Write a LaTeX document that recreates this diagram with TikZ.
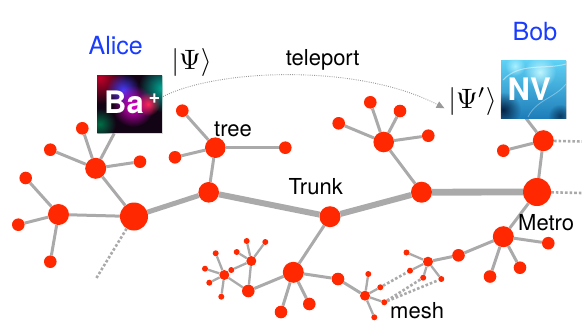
\documentclass[tikz,border=0pt]{standalone}
\usepackage{fontspec}
\setmainfont{TeX Gyre Heros}
\usetikzlibrary{arrows.meta,fadings,shadows}

\definecolor{nodered}{RGB}{255,40,0}
\definecolor{edgegray}{RGB}{170,170,170}
\definecolor{namecolor}{RGB}{25,60,255}
\definecolor{bagnd}{RGB}{18,4,20}
\definecolor{baCrimson}{RGB}{190,0,40}
\definecolor{baTeal}{RGB}{0,170,150}
\definecolor{baGreen}{RGB}{0,110,70}
\definecolor{baBlue}{RGB}{70,60,255}
\definecolor{baMagenta}{RGB}{230,0,210}
\definecolor{baPink}{RGB}{255,40,90}
\definecolor{nvTop}{RGB}{95,210,245}
\definecolor{nvBottom}{RGB}{30,125,185}
\definecolor{nvDeep}{RGB}{5,35,70}
\definecolor{nvDark}{RGB}{10,60,100}
\definecolor{nvLight}{RGB}{190,245,255}
\definecolor{nvPale}{RGB}{170,240,255}
\tikzfading[name=glowfade, inner color=transparent!0, outer color=transparent!100]

\pgfdeclarelayer{edges}
\pgfsetlayers{edges,main}

\tikzset{
  rednode/.style={circle, fill=nodered, inner sep=0pt},
  bigdot/.style={rednode, minimum size=28pt},
  hubdot/.style={rednode, minimum size=21pt},
  leafdot/.style={rednode, minimum size=12.6pt},
  minidot/.style={rednode, minimum size=10pt},
  twigdot/.style={rednode, minimum size=6pt},
  branch/.style={draw=edgegray, line width=3pt},
  twigline/.style={draw=edgegray, line width=2.3pt},
  trunkline/.style={draw=edgegray, line width=#1},
  dotline/.style={draw=edgegray, line width=2.6pt, dash pattern=on 2.6pt off 2pt},
  word/.style={anchor=base west, inner sep=0pt, font=\fontsize{22}{26}\selectfont},
  nameword/.style={anchor=base west, inner sep=0pt, text=namecolor, font=\fontsize{25}{30}\selectfont},
  ket/.style={inner sep=0pt, font=\fontsize{10}{12}\selectfont, scale=2.8},
  picbox/.style={inner sep=0pt, minimum width=65pt, minimum height=58pt,
    drop shadow={opacity=0.3, shadow xshift=1pt, shadow yshift=-1pt}},
  boxtext/.style={anchor=base west, inner sep=0pt, text=white, font=\bfseries\fontsize{31}{31}\selectfont},
  glow/.style={fill=#1, path fading=glowfade},
}

\begin{document}
\begin{tikzpicture}[x=1pt, y=-1pt]
\useasboundingbox (0,0) rectangle (582,322);

% ---------- left tree ----------
\node[bigdot] (L1) at (134,216.5) {};
\node[hubdot] (L2) at (58.5,214.5) {};
\node[hubdot] (L3) at (95.7,168.3) {};
\node[leafdot] (L3a) at (82.3,128.3) {};
\node[leafdot] (L3b) at (50.3,149.7) {};
\node[leafdot] (L3c) at (140,161.7) {};
\node[leafdot] (L2a) at (25.7,178) {};
\node[leafdot] (L2b) at (18.3,224.7) {};
\node[leafdot] (L2c) at (50.3,261.7) {};
\coordinate (Lfree) at (96,278.7);

% ---------- tree ----------
\node[hubdot, minimum size=20.6pt] (T1) at (215.3,147.7) {};
\node[leafdot] (T1a) at (182.3,110.7) {};
\node[leafdot] (T1b) at (175,157.3) {};
\node[leafdot] (T1c) at (285.3,147.7) {};
\node[hubdot, minimum size=20.6pt] (T2) at (208.7,192.3) {};

% ---------- trunk ----------
\node[hubdot] (C) at (330,216.7) {};
\node[hubdot] (R1) at (421.5,192.2) {};
\node[bigdot] (R2) at (537,192) {};
\coordinate (R2free) at (582,193);

% ---------- upper right tree ----------
\node[hubdot, minimum size=20.6pt] (Q) at (383.7,142) {};
\node[leafdot] (Qa) at (370.3,102.3) {};
\node[leafdot] (Qb) at (400,111) {};
\node[leafdot] (Qc) at (338.7,123.3) {};
\node[leafdot] (Qd) at (428.3,135.7) {};

\node[hubdot] (P) at (543.3,140.7) {};
\node[leafdot] (Pa) at (503.3,150.7) {};
\coordinate (Pfree) at (582,141.5);
\coordinate (NVfoot) at (518,108);

% ---------- lower network ----------
\node[hubdot] (D) at (293.3,272.3) {};
\node[leafdot] (Da) at (309.3,304) {};
\node[leafdot] (Db) at (281,312) {};
\node[leafdot] (N) at (338,279) {};

\node[minidot] (E) at (365,295.7) {};
\node[twigdot] (Ea) at (368.3,274) {};
\node[twigdot] (Eb) at (374.3,317.3) {};
\node[twigdot] (Ec) at (380.3,287.3) {};
\node[twigdot] (Ed) at (384.3,302.3) {};

\node[minidot] (F) at (428,261.7) {};
\node[twigdot] (Fa) at (406.5,252.5) {};
\node[twigdot] (Fb) at (410,270.7) {};
\node[twigdot] (Fc) at (423.2,277.7) {};
\node[twigdot] (Fd) at (441.3,279) {};

\node[leafdot] (G) at (458.5,255.3) {};
\node[hubdot] (H) at (503.3,236.7) {};
\node[leafdot] (Ha) at (548.3,243.2) {};
\node[leafdot] (Hb) at (520,267.7) {};
\node[leafdot] (Hc) at (490,276.5) {};

\node[leafdot] (K) at (248.3,291) {};
\node[minidot] (J) at (251.3,261) {};
\node[twigdot] (Ja) at (246.7,241) {};
\node[twigdot] (Jb) at (265.3,242) {};
\node[twigdot] (Jc) at (236.7,252) {};
\node[twigdot] (Jd) at (231.3,270) {};
\node[minidot] (I) at (224.3,275) {};
\node[twigdot] (Ia) at (215.7,253.3) {};
\node[twigdot] (Ib) at (205,268.7) {};
\node[twigdot] (Ic) at (209.3,282.7) {};
\node[twigdot] (Id) at (221.3,296.7) {};

% ---------- Ba+ ion picture ----------
\node[picbox, fill=bagnd] (ba) at (129.7,104.2) {};
\begin{scope}
  \clip (ba.south west) rectangle (ba.north east);
  \fill[glow=baCrimson] (100,78) circle (26pt);
  \fill[glow=baTeal] (162,88) circle (24pt);
  \fill[glow=baGreen] (100,124) circle (16pt);
  \fill[glow=baBlue] (123,90) circle (17pt);
  \fill[glow=baMagenta] (133,106) circle (21pt);
  \fill[glow=baPink] (148,104) circle (12pt);
\end{scope}
\node[boxtext] (batext) at (104,113.3) {Ba};
\node[inner sep=0pt, text=white, font=\bfseries\fontsize{20}{20}\selectfont] (baplus) at (154.4,98.6) {+};

% ---------- NV centre picture ----------
\node[picbox, top color=nvTop, bottom color=nvBottom] (nv) at (533.5,89) {};
\begin{scope}
  \clip (nv.south west) rectangle (nv.north east);
  \fill[glow=nvDeep] (503,110) circle (18pt);
  \fill[glow=nvDark] (560,116) circle (12pt);
  \fill[glow=nvLight] (540,72) circle (16pt);
  \fill[glow=nvPale] (515,66) circle (10pt);
  \draw[white, opacity=0.45, line width=1pt] (503,80) .. controls (520,62) and (545,70) .. (566,64);
  \draw[white, opacity=0.35, line width=0.8pt] (528,117) .. controls (536,100) and (555,98) .. (566,84);
\end{scope}
\node[boxtext] (nvtext) at (507.5,100) {NV};

% ---------- texts ----------
\node[nameword] (alice) at (88.5,54.3) {Alice};
\node[nameword] (bob) at (512.5,40) {Bob};
\node[ket] (psia) at (191.5,62.5) {$|\Psi\rangle$};
\node[ket] (psib) at (472.5,101.3) {$|\Psi'\rangle$};
\node[word] (teleport) at (285.7,65) {teleport};
\node[word] (treelbl) at (214,136) {tree};
\node[word] (trunklbl) at (288.3,194.3) {Trunk};
\node[word] (metrolbl) at (518,230.7) {Metro};
\node[word] (meshlbl) at (390,318.5) {mesh};

% ---------- teleportation ----------
\coordinate (tpstart) at (163,96.5);
\coordinate (tpend) at (444.5,108.3);
\draw[edgegray!90!black, line width=0.9pt, dash pattern=on 0.9pt off 1.3pt,
      -{Triangle[length=8pt, width=7pt, sep=0pt]}]
  (tpstart) .. controls (220,68) and (360,64) .. (tpend);

% ---------- connectors ----------
\begin{pgfonlayer}{edges}
  \draw[trunkline=5pt] (L1) -- (T2);
  \draw[trunkline=6pt] (T2) -- (C);
  \draw[trunkline=6pt] (C) -- (R1);
  \draw[trunkline=6.8pt] (R1) -- (R2);

  \draw[branch] (L1) -- (L2);
  \draw[branch] (L1) -- (L3);
  \draw[branch] (L3) -- (ba);
  \draw[branch] (L3) -- (L3a);
  \draw[branch] (L3) -- (L3b);
  \draw[branch] (L3) -- (L3c);
  \draw[branch] (L2) -- (L2a);
  \draw[branch] (L2) -- (L2b);
  \draw[branch] (L2) -- (L2c);
  \draw[dotline] (L1) -- (Lfree);

  \draw[branch] (T2) -- (T1);
  \draw[branch] (T1) -- (T1a);
  \draw[branch] (T1) -- (T1b);
  \draw[branch] (T1) -- (T1c);

  \draw[branch] (R1) -- (Q);
  \draw[branch] (Q) -- (Qa);
  \draw[branch] (Q) -- (Qb);
  \draw[branch] (Q) -- (Qc);
  \draw[branch] (Q) -- (Qd);

  \draw[branch] (R2) -- (P);
  \draw[branch] (P) -- (Pa);
  \draw[branch] (P) -- (NVfoot);
  \draw[dotline] (P) -- (Pfree);
  \draw[dotline] (R2) -- (R2free);

  \draw[branch] (R2) -- (H);
  \draw[branch] (H) -- (Ha);
  \draw[branch] (H) -- (Hb);
  \draw[branch] (H) -- (Hc);
  \draw[branch] (H) -- (G);
  \draw[branch] (G) -- (F);
  \draw[twigline] (F) -- (Fa);
  \draw[twigline] (F) -- (Fb);
  \draw[twigline] (F) -- (Fc);
  \draw[twigline] (F) -- (Fd);

  \draw[branch] (C) -- (D);
  \draw[branch] (D) -- (Da);
  \draw[branch] (D) -- (Db);
  \draw[branch] (D) -- (N);
  \draw[branch] (N) -- (E);
  \draw[twigline] (E) -- (Ea);
  \draw[twigline] (E) -- (Eb);
  \draw[twigline] (E) -- (Ec);
  \draw[twigline] (E) -- (Ed);

  \draw[dotline] (Ec) -- (Fb);
  \draw[dotline] (Ed) -- (Fc);
  \draw[dotline] (Ed) -- (Fd);

  \draw[branch] (D) -- (K);
  \draw[twigline] (K) -- (J);
  \draw[twigline] (K) -- (I);
  \draw[twigline] (J) -- (Ja);
  \draw[twigline] (J) -- (Jb);
  \draw[twigline] (J) -- (Jc);
  \draw[twigline] (J) -- (Jd);
  \draw[twigline] (I) -- (Ia);
  \draw[twigline] (I) -- (Ib);
  \draw[twigline] (I) -- (Ic);
  \draw[twigline] (I) -- (Id);
\end{pgfonlayer}
\end{tikzpicture}
\end{document}
